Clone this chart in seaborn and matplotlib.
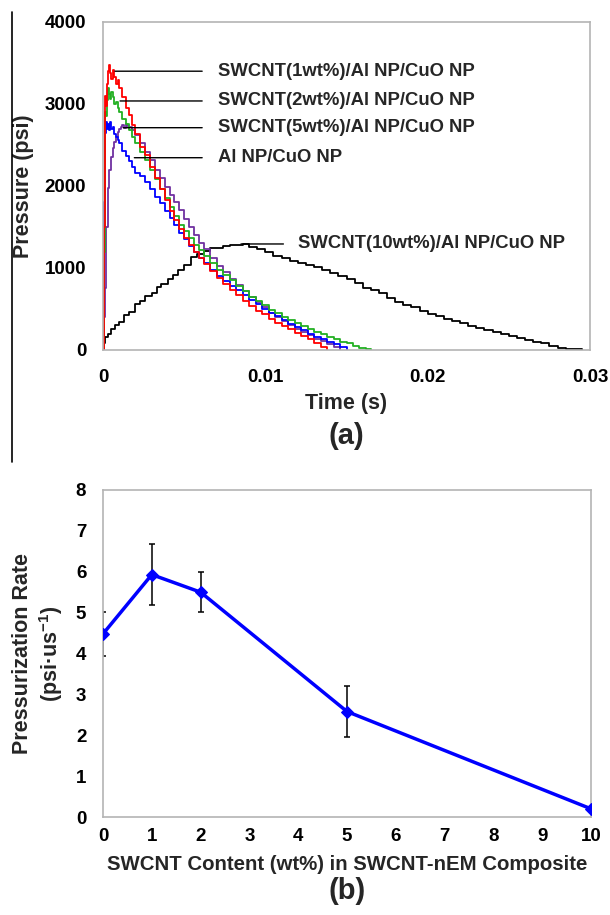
import numpy as np
import pandas as pd
import matplotlib
matplotlib.use("Agg")
import matplotlib.pyplot as plt
import seaborn as sns

sns.set_theme(style="white")
plt.rcParams['font.family'] = ['Liberation Sans', 'DejaVu Sans']
plt.rcParams['font.weight'] = 'bold'
plt.rcParams['mathtext.fontset'] = 'custom'
plt.rcParams['mathtext.rm'] = 'Liberation Sans:bold'
plt.rcParams['mathtext.default'] = 'rm'

# ---- panel (a): pressure traces ----
t_fast = [0, 0.00005, 0.0001, 0.00015, 0.0002, 0.00025, 0.0003, 0.00038, 0.00045, 0.00052,
          0.0006, 0.0007, 0.0008, 0.0009, 0.001, 0.0012, 0.0014, 0.0016, 0.0018, 0.002,
          0.0023, 0.0026, 0.0029, 0.0032, 0.0035, 0.0038, 0.0041, 0.0044, 0.0047, 0.005,
          0.0053, 0.0056, 0.0059, 0.0062, 0.0066, 0.007, 0.0074, 0.0078, 0.0082, 0.0086,
          0.009, 0.0094, 0.0098, 0.0102, 0.0106, 0.011, 0.0114, 0.0118, 0.0122, 0.0126,
          0.013, 0.0134, 0.0138, 0.0142, 0.0146, 0.015, 0.0154, 0.0158, 0.0162, 0.0165]

p_1wt = [0, 1500, 2900, 3100, 2980, 3250, 3400, 3470, 3380, 3300,
         3420, 3330, 3250, 3290, 3200, 3080, 2950, 2860, 2740, 2640,
         2480, 2380, 2230, 2100, 1960, 1830, 1700, 1580, 1480, 1370,
         1280, 1190, 1120, 1050, 960, 880, 810, 730, 670, 600,
         540, 480, 440, 380, 330, 290, 260, 210, 170, 130,
         90, 40, 0]

p_2wt = [0, 1200, 2750, 2900, 2850, 3050, 3200, 3120, 3060, 3150,
         3080, 3000, 3030, 2950, 2900, 2820, 2760, 2680, 2600, 2530,
         2420, 2320, 2200, 2080, 1960, 1850, 1740, 1640, 1530, 1450,
         1360, 1280, 1220, 1150, 1060, 980, 920, 850, 780, 720,
         650, 600, 550, 490, 450, 400, 360, 330, 290, 260,
         220, 190, 160, 130, 100, 80, 50, 30, 10, 0]

p_0wt = [0, 1800, 2400, 2650, 2780, 2700, 2760, 2680, 2780, 2690,
         2720, 2640, 2600, 2560, 2520, 2430, 2370, 2300, 2230, 2160,
         2120, 2050, 1960, 1870, 1790, 1700, 1610, 1520, 1430, 1350,
         1270, 1190, 1120, 1060, 980, 900, 840, 780, 730, 670,
         610, 560, 500, 450, 410, 360, 320, 280, 240, 200,
         160, 130, 100, 70, 40, 0]

t_5wt = [0, 0.00005, 0.0001, 0.0002, 0.0003, 0.0004, 0.0005, 0.0006, 0.0007, 0.0008,
         0.0009, 0.001, 0.0011, 0.0012, 0.0013, 0.0014, 0.0015, 0.0016, 0.0018, 0.002,
         0.0023, 0.0026, 0.0029, 0.0032, 0.0035, 0.0038, 0.0041, 0.0044, 0.0047, 0.005,
         0.0053, 0.0056, 0.0059, 0.0062, 0.0066, 0.007, 0.0074, 0.0078, 0.0082, 0.0086,
         0.009, 0.0094, 0.0098, 0.0102, 0.0106, 0.011, 0.0114, 0.0118, 0.0122, 0.0126,
         0.013, 0.0134, 0.0138, 0.0142, 0.0146]
p_5wt = [0, 400, 760, 1500, 1980, 2200, 2350, 2460, 2540, 2600,
         2660, 2690, 2720, 2750, 2710, 2760, 2730, 2720, 2680, 2620,
         2520, 2420, 2320, 2200, 2100, 1990, 1890, 1800, 1710, 1600,
         1500, 1400, 1310, 1230, 1120, 1030, 950, 870, 790, 720,
         650, 590, 520, 450, 400, 350, 300, 260, 220, 180,
         140, 110, 70, 40, 0]

t_10wt = [0, 0.0001, 0.0003, 0.0005, 0.00075, 0.001, 0.0013, 0.0016, 0.002, 0.0023,
          0.0026, 0.003, 0.0033, 0.0036, 0.004, 0.0043, 0.0046, 0.005, 0.0054, 0.0058,
          0.0062, 0.0066, 0.007, 0.0074, 0.0078, 0.0082, 0.0086, 0.009, 0.0095, 0.01,
          0.0105, 0.011, 0.0115, 0.012, 0.0125, 0.013, 0.0135, 0.014, 0.0145, 0.015,
          0.0155, 0.016, 0.0165, 0.017, 0.0175, 0.018, 0.0185, 0.019, 0.0195, 0.02,
          0.0205, 0.021, 0.0215, 0.022, 0.0225, 0.023, 0.0235, 0.024, 0.0245, 0.025,
          0.0255, 0.026, 0.0265, 0.027, 0.0275, 0.028, 0.0285, 0.029, 0.0295]
p_10wt = [80, 160, 200, 260, 310, 340, 430, 460, 560, 600,
          660, 700, 770, 800, 860, 920, 970, 1040, 1130, 1170,
          1210, 1240, 1250, 1270, 1285, 1280, 1290, 1260, 1230, 1190,
          1150, 1120, 1090, 1060, 1040, 1010, 970, 940, 900, 870,
          820, 760, 730, 690, 630, 590, 550, 520, 480, 440,
          410, 380, 350, 325, 290, 270, 250, 225, 190, 170,
          150, 125, 100, 80, 50, 30, 15, 8, 5]

trace_names = ["10wt", "5wt", "0wt", "2wt", "1wt"]
trace_colors = {"10wt": "black", "5wt": "#7030a0", "0wt": "#0000ff",
                "2wt": "#22b022", "1wt": "#ff0000"}

labels_a = ["SWCNT(1wt%)/Al NP/CuO NP", "SWCNT(2wt%)/Al NP/CuO NP",
            "SWCNT(5wt%)/Al NP/CuO NP", "Al NP/CuO NP", "SWCNT(10wt%)/Al NP/CuO NP"]

# ---- panel (b): pressurization rate ----
content = [0, 1, 2, 5, 10]
rate = [4.48, 5.93, 5.5, 2.58, 0.2]
rate_err = [0.53, 0.75, 0.49, 0.62, 0.0]

frames = []
for name, t, p in [("10wt", t_10wt, p_10wt), ("5wt", t_5wt, p_5wt),
                   ("0wt", t_fast[:len(p_0wt)], p_0wt), ("2wt", t_fast[:len(p_2wt)], p_2wt),
                   ("1wt", t_fast[:len(p_1wt)], p_1wt)]:
    frames.append(pd.DataFrame({"t": t, "p": p, "s": name}))
df = pd.concat(frames, ignore_index=True)

fig = plt.figure(figsize=(6.1, 9.15), dpi=100)
W, H = 610, 915

def box(l, t, r, b):
    return [l / W, 1 - b / H, (r - l) / W, (b - t) / H]

spine_c = "#b4b4b4"
tick_fs = 13.5

# ---------------- (a) ----------------
ax = fig.add_axes(box(103, 22, 590, 350))
sns.lineplot(data=df, x="t", y="p", hue="s", hue_order=trace_names, palette=trace_colors,
             estimator=None, sort=False, drawstyle="steps-post", lw=1.3, legend=False, ax=ax)
ax.set_xlim(0, 0.03)
ax.set_ylim(0, 4000)
ax.set_xticks([0, 0.01, 0.02, 0.03])
ax.set_xticklabels(["0", "0.01", "0.02", "0.03"])
ax.set_yticks([0, 1000, 2000, 3000, 4000])
ax.set_xlabel("")
ax.set_ylabel("")

lead = [(0.00074, 3400, labels_a[0]), (0.00105, 3037, labels_a[1]),
        (0.00125, 2711, labels_a[2]), (0.00193, 2345, labels_a[3])]
for x0, y0, txt in lead:
    ax.annotate(txt, xy=(x0, y0), xytext=(0.00708, y0), ha="left", va="center",
                fontsize=13.3, fontweight="bold",
                arrowprops=dict(arrowstyle="-", color="black", lw=1,
                                shrinkA=9, shrinkB=0, relpos=(0, 0.5)))
ax.annotate(labels_a[4], xy=(0.0085, 1293), xytext=(0.0120, 1293), ha="left", va="center",
            fontsize=13.3, fontweight="bold",
            arrowprops=dict(arrowstyle="-", color="black", lw=1,
                            shrinkA=8, shrinkB=0, relpos=(0, 0.5)))

ax.text(-0.163, 0.5, "Pressure (psi)", transform=ax.transAxes, rotation=90,
        ha="center", va="center", fontsize=15.5, fontweight="bold")
ax.text(0.5, -0.162, "Time (s)", transform=ax.transAxes, ha="center", va="center",
        fontsize=15.5, fontweight="bold")
ax.text(0.5, -0.262, "(a)", transform=ax.transAxes, ha="center", va="center",
        fontsize=21, fontweight="bold")

# ---------------- (b) ----------------
bx = fig.add_axes(box(103, 490, 591, 817))
bx.errorbar(content, rate, yerr=rate_err, fmt="none", ecolor="black", elinewidth=1.1,
            capsize=2, capthick=1.1, zorder=2)
sns.lineplot(x=content, y=rate, color="#0000ff", lw=2.5, marker="D", markersize=6,
             markeredgecolor="#0000ff", ax=bx, zorder=3)
bx.set_xlim(0, 10)
bx.set_ylim(0, 8)
bx.set_xticks(range(0, 11))
bx.set_yticks(range(0, 9))
bx.set_xlabel("")
bx.set_ylabel("")
bx.text(-0.165, 0.5, "Pressurization Rate", transform=bx.transAxes, rotation=90,
        ha="center", va="center", fontsize=15.5, fontweight="bold")
bx.text(-0.106, 0.5, r"(psi·us$^{-1}$)", transform=bx.transAxes, rotation=90,
        ha="center", va="center", fontsize=15.5, fontweight="bold")
bx.text(0.5, -0.145, "SWCNT Content (wt%) in SWCNT-nEM Composite", transform=bx.transAxes,
        ha="center", va="center", fontsize=14.7, fontweight="bold")
bx.text(0.5, -0.225, "(b)", transform=bx.transAxes, ha="center", va="center",
        fontsize=21, fontweight="bold")

for a in (ax, bx):
    for s in a.spines.values():
        s.set_color(spine_c)
        s.set_linewidth(1.2)
    a.tick_params(axis="both", direction="out", length=5, width=1, color=spine_c,
                  labelsize=tick_fs, labelcolor="black")
    a.tick_params(axis="y", pad=7)
    for lab in a.get_xticklabels() + a.get_yticklabels():
        lab.set_fontweight("bold")
ax.tick_params(axis="x", pad=9)
bx.tick_params(axis="x", pad=3)

# frame line at the left edge of panel (a)
fig.add_artist(plt.Line2D([12 / W, 12 / W], [1 - 12 / H, 1 - 462 / H], color="black", lw=1.2))

fig.savefig("out.png", dpi=100)
